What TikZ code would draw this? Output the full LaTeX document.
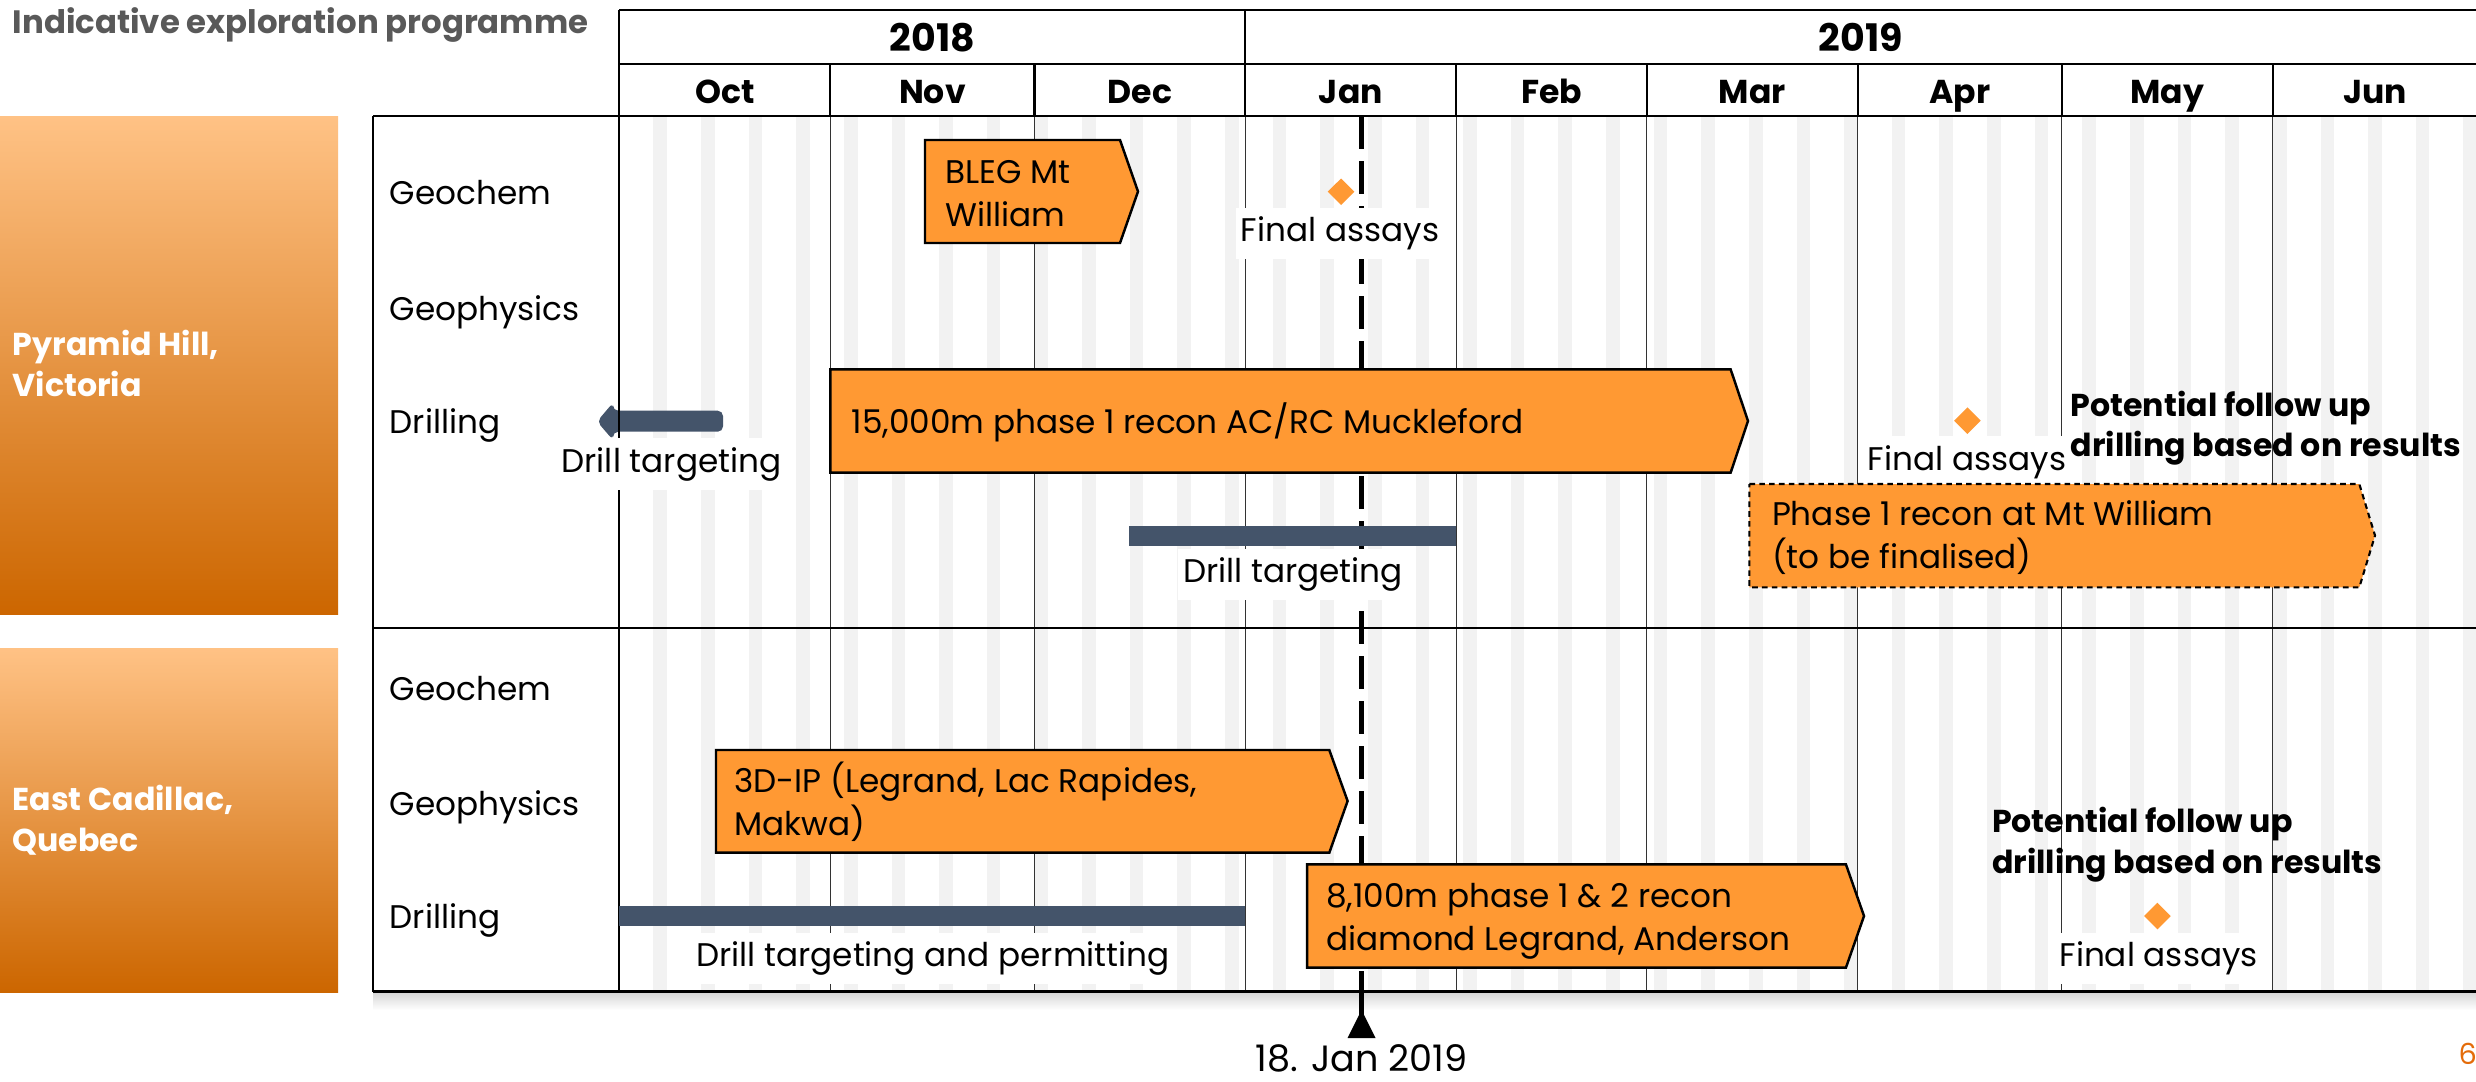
\documentclass[tikz,border=0pt]{standalone}
\usepackage{fontspec}
\setmainfont{Poppins}
\definecolor{barorange}{HTML}{FF9933}
\definecolor{slate}{HTML}{44546A}
\definecolor{stripegray}{HTML}{F2F2F2}
\definecolor{titlegray}{HTML}{595959}
\definecolor{gradtop}{HTML}{FFC285}
\definecolor{gradmid}{HTML}{FF9E3D}
\definecolor{gradbot}{HTML}{CC6600}
\definecolor{pageorange}{HTML}{E46C0A}
\begin{document}
\begin{tikzpicture}[x=0.01cm,y=-0.01cm,
  bodytxt/.style={font=\fontsize{9.3}{11.95}\selectfont, inner sep=0pt, align=left, text=black},
  rowlabel/.style={bodytxt, anchor=base west},
  boxtxt/.style={bodytxt, anchor=base west},
  whitelabel/.style={bodytxt, anchor=base, fill=white, inner xsep=1.5pt, inner ysep=2.5pt},
  boldnote/.style={font=\bfseries\fontsize{9.0}{11.4}\selectfont, inner sep=0pt, align=left, anchor=base west},
  sectionlabel/.style={font=\bfseries\fontsize{9.0}{11.6}\selectfont, text=white, inner sep=0pt, align=left, anchor=base west},
  monthtxt/.style={font=\bfseries\fontsize{9.4}{11}\selectfont, inner sep=0pt, anchor=base},
  yeartxt/.style={font=\bfseries\fontsize{10.8}{13}\selectfont, inner sep=0pt, anchor=base},
  taskbox/.style={fill=barorange, draw=black, line width=0.7pt, line join=miter},
  plannedbox/.style={fill=barorange, draw=black, line width=0.6pt, dash pattern=on 1.6pt off 1.2pt},
  slatebar/.style={fill=slate},
  milestone/.style={fill=barorange},
  headline/.style={line width=0.6pt, draw=black},
  gridline/.style={line width=0.3pt, draw=black!80},
  frameline/.style={line width=0.5pt, draw=black}
]
% canvas
\useasboundingbox (0,0) rectangle (2476,1081);
\fill[white] (0,0) rectangle (2476,1081);

% title
\node[font=\bfseries\fontsize{9.2}{10}\selectfont, text=titlegray, inner sep=0pt, anchor=base west] (title) at (12,33) {Indicative exploration programme};

% section label boxes with gradient
\shade[top color=gradtop, middle color=gradmid, bottom color=gradbot] (0,116) rectangle (338,614);
\shade[top color=gradtop, middle color=gradmid, bottom color=gradbot] (0,648) rectangle (338,992);
\node[sectionlabel] (pyr) at (12,396.7) {Pyramid Hill,\\Victoria};
\node[sectionlabel] (eca) at (12,851.7) {East Cadillac,\\Quebec};

% weekend stripes
\foreach \k in {0,...,38}{
  \fill[stripegray] ({619.4+(5+7*\k)*6.8044},116) rectangle ({619.4+(7+7*\k)*6.8044},991);
}

% month grid lines in body
\foreach \d in {31,61,92,123,151,182,212,243}{
  \draw[gridline] ({619.4+\d*6.8044},116) -- ({619.4+\d*6.8044},991);
}

% shadow under bottom frame
\shade[top color=black!16, bottom color=white] (373,992) rectangle (2476,1010);

% today line (under the bars)
\draw[line width=1.15pt, dash pattern=on 9.4pt off 3.4pt] (1361.5,116) -- (1361.5,991);
\draw[line width=1.15pt] (1361.5,991) -- (1361.5,1016);
\fill[black] (1361.5,1010) -- (1375.5,1038) -- (1347.5,1038) -- cycle;
\node[bodytxt, font=\fontsize{10.4}{12}\selectfont, anchor=base] (today) at (1361.5,1071) {18. Jan 2019};

% drill targeting arrow (under the Oct line)
\fill[slatebar, rounded corners=1.5pt] (597,421.5) -- (613,402.7) -- (613,410.7) -- (723,410.7) -- (723,431.7) -- (613,431.7) -- (613,440) -- cycle;

% ---- frame ----
\draw[frameline] (373,116) -- (2476,116);
\draw[frameline] (373,116) -- (373,991.7);
\draw[frameline] (373,628.3) -- (2476,628.3);
\draw[line width=0.7pt] (373,991.7) -- (2476,991.7);
\draw[line width=0.6pt] (619.4,10) -- (619.4,991.7);

% ---- header ----
\draw[headline] (619.4,10) -- (2476,10);
\draw[headline] (619.4,64) -- (2476,64);
\draw[line width=0.8pt] (619.4,116) -- (2476,116);
\draw[headline] (1245.4,10) -- (1245.4,116);
\foreach \d in {31,61,123,151,182,212,243}{
  \draw[headline] ({619.4+\d*6.8044},64) -- ({619.4+\d*6.8044},116);
}
\node[yeartxt] (y18) at (932.4,51.7) {2018};
\node[yeartxt] (y19) at (1860.7,51.7) {2019};
\node[monthtxt] (oct) at ({619.4+15.5*6.8044},103) {Oct};
\node[monthtxt] (nov) at ({619.4+46*6.8044},103) {Nov};
\node[monthtxt] (dec) at ({619.4+76.5*6.8044},103) {Dec};
\node[monthtxt] (jan) at ({619.4+107.5*6.8044},103) {Jan};
\node[monthtxt] (feb) at ({619.4+137*6.8044},103) {Feb};
\node[monthtxt] (mar) at ({619.4+166.5*6.8044},103) {Mar};
\node[monthtxt] (apr) at ({619.4+197*6.8044},103) {Apr};
\node[monthtxt] (may) at ({619.4+227.5*6.8044},103) {May};
\node[monthtxt] (jun) at ({619.4+258*6.8044},103) {Jun};

% ---- Pyramid Hill ----
% Geochem: BLEG Mt William
\draw[taskbox] (925,140) -- (1120,140) -- (1138,191.5) -- (1120,243) -- (925,243) -- cycle;
\node[boxtxt] (bleg) at (944.7,226) {BLEG Mt\\William};
% Final assays (Jan)
\fill[milestone] (1341,178.5) -- (1354.3,191.7) -- (1341,205) -- (1327.7,191.7) -- cycle;
\node[whitelabel] (fa1) at (1340,241.5) {Final assays};

% Drilling
\node[whitelabel] (dt1) at (671.5,472) {Drill targeting};

% 15,000m phase 1
\draw[taskbox] (830.3,369.3) -- (1730.6,369.3) -- (1748,421) -- (1730.6,472.7) -- (830.3,472.7) -- cycle;
\node[boxtxt] (muck) at (851,433) {15,000m phase 1 recon AC/RC Muckleford};

% Final assays (Apr)
\fill[milestone] (1967.4,407.4) -- (1980.7,420.7) -- (1967.4,434) -- (1954.1,420.7) -- cycle;
\node[whitelabel] (fa2) at (1967,470) {Final assays};
\node[boldnote] (pot1) at (2070,456.7) {Potential follow up\\drilling based on results};

% Drill targeting bar Dec 15 - Feb 1
\fill[slatebar] (1129.4,525.7) rectangle (1456.4,546);
\node[whitelabel] (dt2) at (1293,582.7) {Drill targeting};

% Phase 1 recon at Mt William (dashed)
\draw[plannedbox] (1749.4,484) -- (2359.3,484) -- (2375,535.5) -- (2359.3,587.3) -- (1749.4,587.3) -- cycle;
\node[boxtxt] (mtw) at (1771.3,568) {Phase 1 recon at Mt William\\(to be finalised)};

% ---- East Cadillac ----
% Geophysics: 3D-IP
\draw[taskbox] (716,750) -- (1329.3,750) -- (1347.6,801) -- (1329.3,852.7) -- (716,852.7) -- cycle;
\node[boxtxt] (ip) at (733.4,835) {3D-IP (Legrand, Lac Rapides,\\Makwa)};

% Drilling: targeting and permitting
\fill[slatebar] (619.4,906) rectangle (1245.4,926);
\node[whitelabel] (dtp) at (933,966.7) {Drill targeting and permitting};

% 8,100m
\draw[taskbox] (1307,864.3) -- (1845.9,864.3) -- (1864,916) -- (1845.9,967.7) -- (1307,967.7) -- cycle;
\node[boxtxt] (leg) at (1325.4,950) {8,100m phase 1 \& 2 recon\\diamond Legrand, Anderson};

\node[boldnote] (pot2) at (1991.3,873) {Potential follow up\\drilling based on results};
\fill[milestone] (2157.4,902.7) -- (2170.7,916) -- (2157.4,929.3) -- (2144.1,916) -- cycle;
\node[whitelabel] (fa3) at (2158.6,966.7) {Final assays};

% row labels
\node[rowlabel] (gc1) at (389,204) {Geochem};
\node[rowlabel] (gp1) at (389,320) {Geophysics};
\node[rowlabel] (dr1) at (389,433.3) {Drilling};
\node[rowlabel] (gc2) at (389,700) {Geochem};
\node[rowlabel] (gp2) at (389,815) {Geophysics};
\node[rowlabel] (dr2) at (389,928.3) {Drilling};

% page number
\node[font=\fontsize{8.2}{10}\selectfont, text=pageorange, inner sep=0pt, anchor=base west] (page) at (2458,1064) {6};
\end{tikzpicture}
\end{document}
